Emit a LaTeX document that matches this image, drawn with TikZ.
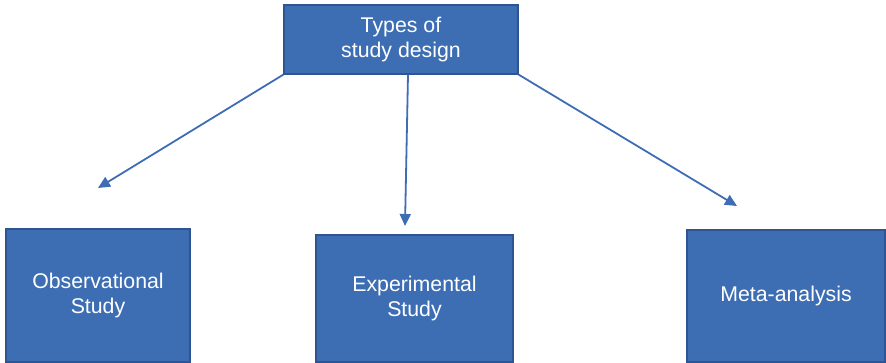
\documentclass[tikz,border=0pt]{standalone}
\usepackage{fontspec}
\setmainfont{Liberation Sans}
\usetikzlibrary{arrows.meta}
\definecolor{boxfill}{RGB}{61,110,180}
\definecolor{boxline}{RGB}{46,84,145}
\definecolor{arrowc}{RGB}{62,109,181}
\begin{document}
\begin{tikzpicture}[x=1pt,y=-1pt,
  box/.style={draw=boxline,line width=1.2pt,fill=boxfill,text=white,align=center,inner sep=0pt,
    font=\fontsize{21.3}{25}\selectfont},
  conn/.style={draw=arrowc,line width=1.8pt,-{Triangle[length=12pt,width=11pt]}}]
\useasboundingbox (0,0) rectangle (886,363);
\node[box,minimum width=234pt,minimum height=69pt] (top) at (401,39.5) {Types of\\study design};
\node[box,minimum width=184pt,minimum height=133pt] (obs) at (98,295.5) {Observational\\Study};
\node[box,minimum width=197pt,minimum height=127pt] (exp) at (414.5,298.5) {Experimental\\Study};
\node[box,minimum width=198pt,minimum height=132pt] (meta) at (786,296) {Meta-analysis};
\coordinate (tipL) at (98,188);
\coordinate (tipM) at (405,226);
\coordinate (tipR) at (737,206);
\draw[conn] (top.south west) -- (tipL);
\draw[conn] ([xshift=7pt]top.south) -- (tipM);
\draw[conn] (top.south east) -- (tipR);
\end{tikzpicture}
\end{document}
